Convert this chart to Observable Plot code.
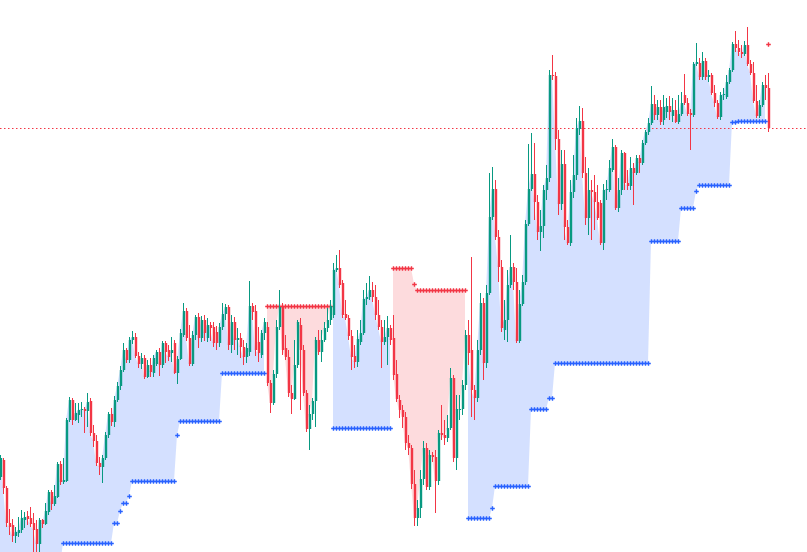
<!DOCTYPE html>
<html><head><meta charset="utf-8">
<script src="https://cdn.jsdelivr.net/npm/d3@7"></script>
<script src="https://cdn.jsdelivr.net/npm/@observablehq/plot@0.6"></script>
<style>html,body{margin:0;padding:0;background:#fff;overflow:hidden}</style>
</head><body><div id="chart"></div>
<script>
// OHLC price series (one bar per entry, oldest first)
const open = [123,140,112,77,75,64,67,70,80,84,82,77,71,56,80,76,88,108,96,103,
136,118,119,180,200,180,185,190,191,189,199,167,159,137,133,142,165,186,178,200,
214,230,250,240,260,263,244,236,242,223,235,227,236,248,235,257,250,247,257,227,
241,265,289,262,236,265,283,262,280,262,275,273,268,257,273,286,293,255,278,260,
262,253,243,248,294,289,258,245,267,273,217,197,226,273,293,252,243,207,201,235,
275,250,207,171,186,199,260,248,260,272,280,285,330,332,317,286,282,264,244,238,
258,267,301,303,310,303,285,273,258,263,272,262,226,200,190,183,157,152,116,82,
92,121,152,113,145,143,119,167,165,162,172,222,142,190,191,215,265,250,210,202,
250,297,237,307,383,411,363,333,270,280,315,333,318,259,296,318,376,411,426,398,
368,374,410,422,525,524,461,396,436,373,357,408,425,471,479,427,382,410,408,398,
397,357,410,410,430,453,392,410,447,417,414,432,427,442,437,457,468,477,496,485,
493,480,488,494,484,490,478,486,505,497,487,485,536,537,523,539,523,525,507,497,
483,505,503,518,530,556,552,548,546,555,536,527,499,484,495,515,512];
const high = [145,142,114,91,81,73,83,90,88,89,93,87,80,82,81,97,110,110,115,138,
139,142,182,203,202,197,197,198,193,207,202,175,165,143,145,168,188,192,204,218,
234,257,252,263,269,267,248,247,245,240,242,245,250,252,259,259,255,263,260,244,
271,297,292,275,269,285,287,284,285,282,278,278,274,277,297,296,295,285,283,272,
267,260,257,319,297,295,273,270,282,278,220,230,280,310,297,265,250,215,260,280,
282,255,210,195,202,263,270,270,278,292,300,337,345,350,320,300,285,270,255,270,
280,310,317,324,318,315,300,280,280,284,275,285,240,205,195,188,165,155,130,100,
130,159,157,150,148,150,170,195,180,185,232,225,205,205,220,270,280,343,215,260,
307,302,315,427,433,420,370,340,300,330,365,337,332,310,325,380,456,467,457,405,
390,415,435,530,545,528,470,450,450,380,420,445,482,494,492,443,432,420,425,415,
400,416,420,440,461,455,422,450,448,430,443,437,445,445,460,470,482,514,505,500,
500,505,502,504,502,500,505,508,526,502,491,538,557,542,548,542,530,527,515,500,
508,512,525,532,558,569,560,555,559,573,540,538,515,500,518,525,527];
const low = [120,106,73,65,58,57,63,67,72,75,73,48,48,48,72,75,85,90,94,102,
115,116,118,178,175,179,177,183,167,173,164,153,134,125,117,140,162,174,173,198,
210,228,237,237,256,242,232,231,221,222,223,223,234,224,232,237,239,238,226,216,
240,263,259,234,234,260,252,258,259,258,259,253,250,253,270,280,250,247,250,245,
242,235,237,244,280,244,238,242,260,214,187,195,222,270,245,240,203,186,200,232,
190,204,168,150,180,173,245,238,258,268,275,282,328,312,282,280,260,230,232,233,
255,265,295,300,298,280,270,232,255,235,255,220,198,182,172,150,145,111,74,74,
82,115,110,110,138,87,115,160,155,158,170,138,130,180,185,210,235,183,180,198,
245,220,232,305,380,360,318,268,260,258,312,310,257,257,294,315,374,409,380,360,
349,362,400,418,520,450,385,390,360,355,354,402,420,465,422,375,365,360,370,380,
355,350,400,408,428,390,388,405,410,410,410,395,425,427,435,455,465,475,480,480,
475,475,482,480,478,477,476,484,495,484,450,483,534,520,520,520,518,505,493,481,
480,500,501,516,528,548,544,542,544,534,525,497,482,482,493,500,468];
const close = [142,112,77,73,64,68,70,82,83,81,76,70,56,80,76,89,108,96,104,136,
118,120,180,200,180,187,190,191,189,198,167,159,137,133,142,165,186,178,200,214,
230,250,240,260,263,244,236,242,223,235,228,242,248,235,257,248,243,250,227,241,
267,289,262,236,265,283,262,280,267,275,272,257,257,273,286,293,255,278,260,262,
253,243,252,294,288,250,247,267,278,217,197,226,273,293,250,243,207,201,235,278,
250,207,171,186,199,260,248,260,272,280,294,330,332,315,285,282,264,243,238,261,
267,301,303,310,303,285,273,258,263,272,260,225,201,190,183,157,152,116,82,92,
121,152,113,145,143,119,167,165,162,172,222,142,191,191,215,265,247,210,202,250,
297,237,307,383,411,363,333,272,280,315,333,318,259,296,318,376,411,426,398,368,
374,410,422,525,524,461,396,436,373,357,408,425,472,479,427,382,410,408,398,382,
357,410,411,432,453,392,410,447,417,414,432,427,442,437,457,468,477,496,485,493,
478,493,494,488,490,478,486,497,497,486,485,536,538,523,539,523,525,507,497,483,
505,506,518,530,556,552,548,546,555,536,527,499,484,495,515,512,472];

// Trailing stop levels as runs: [firstBar, lastBar, level]
const longStopRuns = [[0,20,35],[21,37,57],[38,39,77],[40,40,89],[41,42,97],[43,43,104],
  [44,58,119],[59,59,165],[60,73,179],[74,88,227],[111,130,172],[156,163,82],[164,164,92],
  [165,176,114],[177,182,191],[183,184,202],[185,216,237],[217,226,359],[227,231,392],
  [232,232,409],[233,243,415],[244,245,478],[246,255,479]];
const shortStopRuns = [[89,110,294],[131,137,332],[138,138,316],[139,155,310],[256,256,556]];

const UP = "#089981", DOWN = "#f23645", BLUE = "#2962ff";
const n = close.length;
const longStop = new Array(n).fill(null);
const shortStop = new Array(n).fill(null);
for (const [a, b, v] of longStopRuns) for (let k = a; k <= b; k++) longStop[k] = v;
for (const [a, b, v] of shortStopRuns) for (let k = a; k <= b; k++) shortStop[k] = v;

const bars = close.map((c, i) => {
  const o = open[i];
  let b1 = Math.min(o, c), b2 = Math.max(o, c);
  if (b2 - b1 < 1) { const m = (b1 + b2) / 2; b1 = m - 0.5; b2 = m + 0.5; }
  return {i, o, h: high[i], l: low[i], c, up: c >= o, b1, b2, ls: longStop[i], ss: shortStop[i]};
});

const chart = Plot.plot({
  width: 807, height: 552, margin: 0,
  style: {background: "#ffffff"},
  x: {domain: [0, 269], axis: null},
  y: {domain: [48, 600], axis: null},
  marks: [
    Plot.areaY(bars, {x: "i", y1: d => d.ls == null ? NaN : d.ls, y2: "c", fill: BLUE, fillOpacity: 0.2, clip: true}),
    Plot.areaY(bars, {x: "i", y1: d => d.ss == null ? NaN : d.ss, y2: "c", fill: DOWN, fillOpacity: 0.18, clip: true}),
    Plot.ruleY([close[n - 1]], {stroke: DOWN, strokeWidth: 1, strokeDasharray: "1.5,2.5"}),
    Plot.dot(bars.filter(d => d.ls != null), {x: "i", y: "ls", symbol: "plus", r: 1.6, stroke: BLUE, strokeWidth: 1.4, clip: true}),
    Plot.dot(bars.filter(d => d.ss != null), {x: "i", y: "ss", symbol: "plus", r: 1.6, stroke: DOWN, strokeWidth: 1.4, clip: true}),
    Plot.ruleX(bars.filter(d => d.up), {x: "i", y1: "l", y2: "h", stroke: UP, strokeWidth: 1}),
    Plot.ruleX(bars.filter(d => !d.up), {x: "i", y1: "l", y2: "h", stroke: DOWN, strokeWidth: 1}),
    Plot.ruleX(bars.filter(d => d.up), {x: "i", y1: "b1", y2: "b2", stroke: UP, strokeWidth: 2.4, dx: 0.5}),
    Plot.ruleX(bars.filter(d => !d.up), {x: "i", y1: "b1", y2: "b2", stroke: DOWN, strokeWidth: 2.4, dx: 0.5})
  ]
});
document.getElementById("chart").append(chart);
</script>
</body></html>
